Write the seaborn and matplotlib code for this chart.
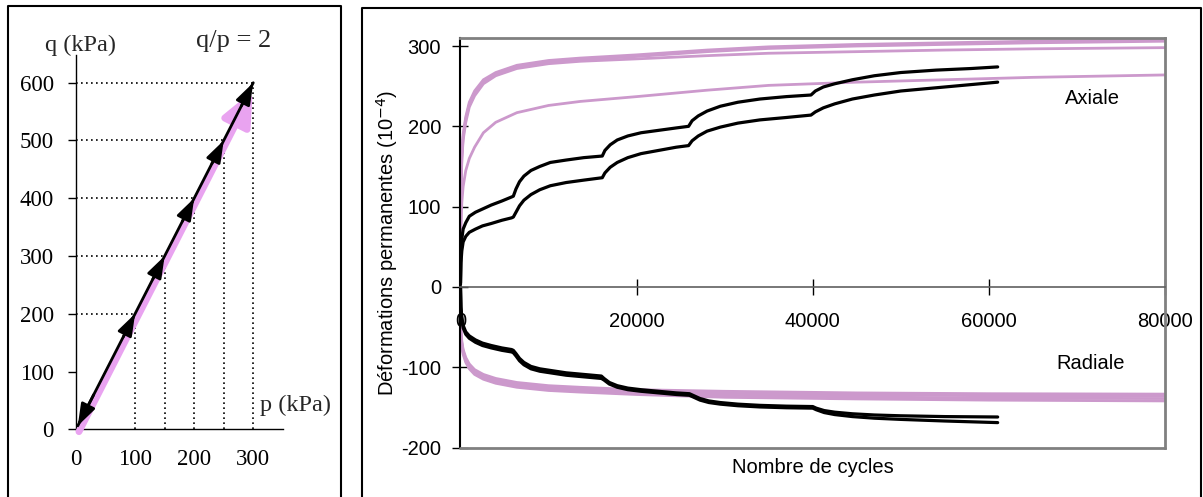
import matplotlib
matplotlib.use("Agg")
import matplotlib.pyplot as plt
import seaborn as sns
from matplotlib.lines import Line2D

# ---------------- stress path (q versus p) ----------------
p_levels = [100, 150, 200, 250, 300]
q_levels = [200, 300, 400, 500, 600]
p_ticks = [0, 100, 200, 300]
q_ticks = [0, 100, 200, 300, 400, 500, 600]

# ---------------- permanent strains versus number of cycles ----------------
# axial, multi-stage tests (black)
n_axial_black = [0, 50, 150, 300, 600, 1000, 1700, 2500, 3500, 4700, 5800,
                 6000, 6300, 6700, 7200, 8000, 9000, 10200, 12000, 14000, 16100,
                 16400, 17000, 17800, 19000, 20500, 22500, 24500, 25900,
                 26300, 27000, 28000, 29500, 31500, 34000, 37000, 39800,
                 40300, 41200, 42500, 44500, 47000, 50000, 54000, 58000, 61000]
axial_black_1 = [5, 40, 60, 72, 80, 88, 93, 97, 102, 107, 112,
                 113, 122, 131, 138, 145, 150, 155, 158, 161, 163,
                 170, 177, 183, 188, 192, 195, 198, 200,
                 207, 213, 219, 225, 230, 234, 237, 239,
                 244, 249, 253, 258, 263, 267, 270, 272, 274]
axial_black_2 = [3, 30, 45, 56, 63, 68, 72, 76, 79, 83, 86,
                 87, 93, 101, 108, 115, 121, 126, 130, 133, 136,
                 142, 149, 155, 161, 166, 170, 174, 176,
                 182, 188, 194, 199, 204, 208, 211, 214,
                 218, 223, 228, 234, 239, 244, 248, 252, 255]

# radial, multi-stage tests (black)
n_radial_black = [0, 50, 150, 300, 600, 1000, 1700, 2500, 3500, 4700, 5800,
                  6000, 6300, 6700, 7200, 8000, 9000, 10200, 12000, 14000, 16000,
                  16300, 16900, 17800, 19000, 20500, 22500, 24500, 26000,
                  26400, 27200, 28200, 29500, 31500, 34000, 37000, 40000,
                  40400, 41300, 42500, 44500, 47000, 50000, 55000, 61000]
radial_black_1 = [0, -25, -38, -48, -56, -61, -66, -70, -73, -76, -78,
                  -79, -83, -89, -94, -99, -102, -104, -107, -109, -111,
                  -114, -119, -123, -126, -128, -130, -132, -133,
                  -135, -139, -142, -144, -146, -147.5, -148.5, -149,
                  -151, -154, -156, -158, -159.5, -160.5, -161.5, -162]
radial_black_2 = [0, -27, -41, -51, -59, -64, -69, -73, -76, -79, -81,
                  -82, -86, -92, -97, -102, -105, -107, -110, -112, -114,
                  -116, -121, -125, -128, -130, -132, -134, -135,
                  -137, -141, -144, -146, -148, -149.5, -150.5, -151,
                  -153, -156.5, -159, -161.5, -163.5, -165, -167, -169]

# axial, single-stage tests (pink)
n_axial_pink = [0, 50, 150, 300, 600, 1000, 1600, 2600, 4000, 6400, 10000,
                13600, 20000, 28000, 35000, 45000, 55000, 65000, 80000]
axial_pink_1 = [50, 120, 165, 190, 212, 230, 244, 258, 267, 276, 282,
                285, 289, 295, 299, 302, 304, 306, 308]
axial_pink_2 = [50, 118, 162, 187, 209, 227, 241, 255, 265, 274, 280,
                283, 287, 293, 297, 300, 302, 304, 306]
axial_pink_3 = [50, 115, 158, 183, 205, 224, 238, 253, 263, 272, 278,
                281, 284, 288, 291, 293, 295, 296.5, 298]
axial_pink_4 = [40, 75, 105, 125, 145, 160, 174, 192, 205, 217, 226,
                231, 237, 245, 251, 255, 258, 261, 264]

# radial, single-stage tests (pink)
n_radial_pink = [0, 50, 150, 300, 600, 1000, 1600, 2600, 4000, 6400, 10000,
                 13600, 20000, 30000, 45000, 60000, 80000]
radial_pink_1 = [-35, -55, -68, -78, -88, -96, -103, -109, -114, -119, -123,
                 -125, -128, -130, -132, -133, -133.5]
radial_pink_2 = [-36, -57, -70, -80, -90, -98, -105, -111, -116, -121, -125,
                 -127, -130, -132.5, -134.5, -135.5, -136]
radial_pink_3 = [-37, -59, -72, -82, -92, -100, -107, -113, -118, -123, -127,
                 -129, -132, -135, -137, -138.5, -139]
radial_pink_4 = [-38, -61, -74, -84, -94, -102, -109, -115, -120, -125, -129,
                 -131, -134, -137.5, -139.5, -141, -142]

x_ticks = [0, 20000, 40000, 60000, 80000]
y_ticks = [-200, -100, 0, 100, 200, 300]

sns.set_theme(style="white")
plt.rcParams["font.family"] = ["Liberation Sans", "DejaVu Sans"]
plt.rcParams["axes.unicode_minus"] = False

W, H = 1203, 497
fig = plt.figure(figsize=(W / 100, H / 100), dpi=100)

# panel frames
fig.add_artist(Line2D([8 / W, 8 / W, 341 / W, 341 / W],
                      [-0.01, 1 - 6 / H, 1 - 6 / H, -0.01], color="black", lw=1.5))
fig.add_artist(Line2D([362 / W, 362 / W, 1201 / W, 1201 / W],
                      [-0.01, 1 - 8 / H, 1 - 8 / H, -0.01], color="black", lw=1.5))

# ================= left: stress path =================
SERIF = ["Liberation Serif", "DejaVu Serif"]
PATH_PINK = "#E9A3F0"
ax1 = fig.add_axes([76 / W, (H - 429.3) / H, 207.4 / W, 374.3 / H])
ax1.set_facecolor("none")
ax1.set_xlim(0, 351)
ax1.set_ylim(0, 648)
for s in ("top", "right"):
    ax1.spines[s].set_visible(False)
for s in ("left", "bottom"):
    ax1.spines[s].set_color("black")
    ax1.spines[s].set_linewidth(1.0)

# dotted guides to each loading level
for p, q in zip(p_levels, q_levels):
    ax1.plot([0, p], [q, q], color="black", lw=1.2, ls=(0, (1, 2)))
    ax1.plot([p, p], [0, q], color="black", lw=1.2, ls=(0, (1, 2)))

# pink stress path with its arrowhead, running just beside the black one
pk_end = (p_levels[-1] - 1, q_levels[-1] - 14)
ax1.annotate("", xy=pk_end, xytext=(5, -4),
             arrowprops=dict(arrowstyle="-|>,head_length=1.7,head_width=0.75",
                             lw=5, color=PATH_PINK, shrinkA=0, shrinkB=0),
             annotation_clip=False)

# black stress path: up to each level and back to zero
sns.lineplot(x=[3, p_levels[-1]], y=[6, q_levels[-1]], ax=ax1, color="black", lw=2,
             zorder=5)
for p, q in zip(p_levels, q_levels):
    ax1.annotate("", xy=(p, q), xytext=(p - 20, q - 40),
                 arrowprops=dict(arrowstyle="-|>,head_length=1.1,head_width=0.38",
                                 lw=2, color="black", shrinkA=0, shrinkB=0),
                 zorder=6)
ax1.annotate("", xy=(3, 6), xytext=(30, 60),
             arrowprops=dict(arrowstyle="-|>,head_length=1.1,head_width=0.38",
                             lw=2, color="black", shrinkA=0, shrinkB=0),
             zorder=6)

ax1.set_xticks(p_ticks)
ax1.set_yticks(q_ticks)
ax1.tick_params(axis="y", direction="out", length=6, width=1, color="black",
                pad=10, labelsize=16.5, left=True)
ax1.tick_params(axis="x", length=0, pad=14, labelsize=16.5, bottom=True)
for lab in ax1.get_xticklabels() + ax1.get_yticklabels():
    lab.set_family(SERIF)
    lab.set_color("black")
ax1.set_xlabel("")
ax1.set_ylabel("")
ax1.text(6.8, 665, "q (kPa)", ha="center", va="center", fontsize=17.5, family=SERIF)
ax1.text(267, 672, "q/p = 2", ha="center", va="center", fontsize=19, family=SERIF)
ax1.text(372, 42, "p (kPa)", ha="center", va="center", fontsize=17.5, family=SERIF)

# ================= right: permanent strains =================
PINK = "#CC99CC"
GREY = "#808080"
ax2 = fig.add_axes([460.5 / W, 49.5 / H, 704.5 / W, 409.5 / H])
ax2.set_facecolor("none")

for ys in (axial_pink_1, axial_pink_2, axial_pink_3, axial_pink_4):
    sns.lineplot(x=n_axial_pink, y=ys, ax=ax2, color=PINK, lw=2, estimator=None, sort=False)
for ys in (radial_pink_1, radial_pink_2, radial_pink_3, radial_pink_4):
    sns.lineplot(x=n_radial_pink, y=ys, ax=ax2, color=PINK, lw=2, estimator=None, sort=False)
for ys in (axial_black_1, axial_black_2):
    sns.lineplot(x=n_axial_black, y=ys, ax=ax2, color="black", lw=2.3, estimator=None, sort=False)
for ys in (radial_black_1, radial_black_2):
    sns.lineplot(x=n_radial_black, y=ys, ax=ax2, color="black", lw=2.3, estimator=None, sort=False)

ax2.set_xlim(0, 80000)
ax2.set_ylim(-200, 310)
ax2.spines["bottom"].set_position(("data", 0))
ax2.spines["bottom"].set_color("#606060")
ax2.spines["bottom"].set_linewidth(1.2)
for s in ("top", "right"):
    ax2.spines[s].set_color(GREY)
    ax2.spines[s].set_linewidth(2)
ax2.spines["left"].set_color("black")
ax2.spines["left"].set_linewidth(1.5)
ax2.axhline(-200, color=GREY, lw=2, clip_on=False, zorder=3)

ax2.set_xticks(x_ticks)
ax2.set_yticks(y_ticks)
ax2.tick_params(axis="both", direction="inout", length=12, width=1, color="black",
                labelsize=14.5, labelcolor="black", bottom=True, left=True)
ax2.tick_params(axis="x", pad=12)
ax2.tick_params(axis="y", pad=8)
ax2.set_xlabel("Nombre de cycles", fontsize=14.5, color="black")
ax2.xaxis.set_label_coords(0.5, -0.026)
ax2.set_ylabel("Déformations permanentes (10$^{-4}$)", fontsize=14.5, color="black")
ax2.yaxis.set_label_coords(-0.086, 0.5)

ax2.text(71800, 235, "Axiale", ha="center", va="center", fontsize=14.5, color="black")
ax2.text(71600, -96, "Radiale", ha="center", va="center", fontsize=14.5, color="black")

fig.savefig("out.png", dpi=100)
